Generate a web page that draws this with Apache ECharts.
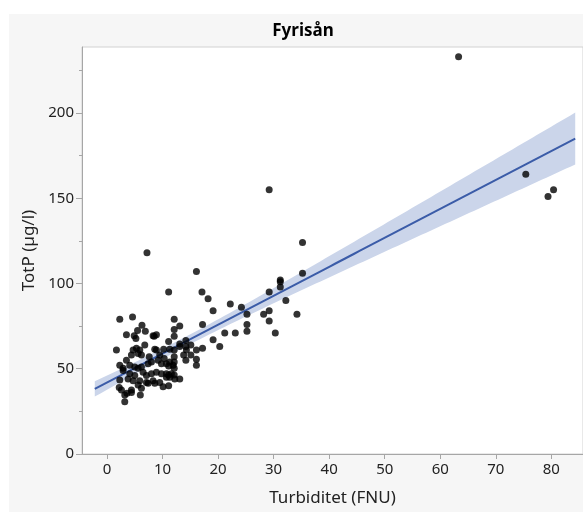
<!DOCTYPE html>
<html>
<head>
<meta charset="utf-8">
<script src="https://cdn.jsdelivr.net/npm/echarts@6/dist/echarts.min.js"></script>
<style>
  html, body { margin: 0; padding: 0; background: #ffffff; }
  #chart { width: 583px; height: 512px; }
</style>
</head>
<body>
<div id="chart"></div>
<script>
// Fyrisån: total phosphorus against turbidity, one pair per sample
const turbidity = [
  63.3, 75.4, 80.4, 79.4, 29.2, 35.2, 35.2, 31.2, 31.2, 31.2,
  29.2, 32.2, 22.2, 24.2, 25.2, 28.2, 29.2, 34.2, 29.2, 25.2,
  25.2, 30.3, 21.2, 23.1, 20.3, 7.2, 16.1, 11.1, 17.1, 18.2,
  19.1, 12.1, 17.2, 13.1, 12.1, 8.5, 8.9, 12.1, 11.1, 14.2,
  19.1, 13.1, 15.1, 8.6, 10.2, 12.1, 14.2, 17.2, 16.1, 15.1,
  12.1, 14.2, 16.1, 16.1, 12.1, 11.1, 12.1, 12.1, 11.1, 13.1,
  10.1, 11.1, 8.6, 2.3, 4.6, 6.3, 6.9, 3.5, 4.9, 5.2,
  8.3, 1.7, 4.7, 5.3, 5.9, 4.4, 5.6, 6.2, 8.9, 11.3,
  13.1, 14.3, 2.3, 2.9, 3.5, 4.1, 5.0, 5.6, 6.2, 7.4,
  8.0, 9.2, 9.8, 10.7, 11.3, 11.9, 4.1, 5.0, 6.5, 7.1,
  8.0, 8.9, 9.8, 10.7, 11.6, 3.8, 4.7, 5.9, 7.1, 8.3,
  9.5, 10.7, 11.3, 12.2, 2.2, 2.6, 4.4, 5.6, 6.2, 7.4,
  3.2, 3.6, 3.2, 4.4, 6.0, 2.3, 2.9, 7.6, 6.8, 9.5,
  10.3, 13.8, 5.5
];
const totP = [
  233, 164, 155, 151, 155, 124, 106, 102, 101, 98,
  95, 90, 88, 86, 82, 82, 84, 82, 78, 76,
  72, 71, 71, 71, 63, 118, 107, 95, 95, 91,
  84, 79, 76, 75, 73, 69, 70, 69, 66, 66.5,
  67, 64.5, 64, 61.4, 61.4, 61, 63, 62, 61, 58,
  57, 55, 55.5, 52, 54, 51.6, 50.3, 46.3, 46.3, 44,
  39.5, 40, 41.5, 79, 80.4, 75.5, 72, 70, 69.4, 67.7,
  69.4, 61, 61, 62, 61, 58, 59, 58, 61, 61.4,
  63, 61, 52, 50.3, 55, 52, 51, 50.3, 51, 53,
  54, 55, 53, 53, 54, 52, 47, 46, 48, 46,
  47, 48, 47, 47, 47, 44, 43, 43, 42, 43,
  42, 45, 45, 44, 39, 37.5, 37.5, 40.5, 38.5, 41.5,
  34.6, 35.6, 30.7, 36, 34.6, 43.4, 49, 57, 64, 58,
  56, 58, 72.5
];

// axis ticks
const xTickValues = [0, 10, 20, 30, 40, 50, 60, 70, 80];
const yTickValues = [0, 50, 100, 150, 200];
const yMinorTickValues = [25, 75, 125, 175, 225];

// x extent covered by the fitted line and its confidence band
const fitRange = [-2.2, 84.3];

// ordinary least squares fit with a 95% confidence band for the mean
function linearFit(xs, ys) {
  const n = xs.length;
  let mx = 0, my = 0;
  for (let i = 0; i < n; i++) { mx += xs[i]; my += ys[i]; }
  mx /= n; my /= n;
  let sxx = 0, sxy = 0;
  for (let i = 0; i < n; i++) {
    sxx += (xs[i] - mx) * (xs[i] - mx);
    sxy += (xs[i] - mx) * (ys[i] - my);
  }
  const slope = sxy / sxx;
  const intercept = my - slope * mx;
  let sse = 0;
  for (let i = 0; i < n; i++) {
    const r = ys[i] - (intercept + slope * xs[i]);
    sse += r * r;
  }
  const s = Math.sqrt(sse / (n - 2));
  const t = 1.977;
  return {
    predict: x => intercept + slope * x,
    halfWidth: x => t * s * Math.sqrt(1 / n + (x - mx) * (x - mx) / sxx)
  };
}

const model = linearFit(turbidity, totP);
const bandX = [];
for (let k = 0; k <= 100; k++) {
  bandX.push(fitRange[0] + (fitRange[1] - fitRange[0]) * k / 100);
}
const fitLine = bandX.map(x => [x, model.predict(x)]);
const bandUpper = bandX.map(x => [x, model.predict(x) + model.halfWidth(x)]);
const bandLower = bandX.map(x => [x, model.predict(x) - model.halfWidth(x)]);

const points = turbidity.map((x, i) => [x, totP[i]]);

const FONT = "'Noto Sans', 'Open Sans', sans-serif";
const AXIS_GREY = '#a6a6a6';

const chart = echarts.init(document.getElementById('chart'), null, { renderer: 'canvas' });
chart.setOption({
  animation: false,
  backgroundColor: '#ffffff',
  graphic: [{
    type: 'rect',
    z: -10,
    silent: true,
    shape: { x: 9, y: 14, width: 580, height: 500 },
    style: { fill: '#f6f6f6' }
  }],
  title: {
    text: 'Fyrisån',
    left: 298,
    top: 18,
    textAlign: 'center',
    textStyle: { fontFamily: FONT, fontSize: 17, fontWeight: 'bold', color: '#000' }
  },
  grid: {
    left: 82, right: -2, top: 47, bottom: 58,
    show: true,
    backgroundColor: '#ffffff',
    borderColor: '#d2d2d2',
    borderWidth: 1
  },
  xAxis: {
    type: 'value',
    min: -4.5,
    max: 85.7,
    name: 'Turbiditet (FNU)',
    nameLocation: 'middle',
    nameGap: 36,
    nameTextStyle: { fontFamily: FONT, fontSize: 17, color: '#222' },
    axisLine: { show: true, onZero: false, lineStyle: { color: AXIS_GREY } },
    axisTick: { show: true, length: 5, customValues: xTickValues, lineStyle: { color: AXIS_GREY } },
    axisLabel: { customValues: xTickValues, fontFamily: FONT, fontSize: 15, color: '#222', margin: 8 },
    splitLine: { show: false }
  },
  yAxis: [{
    type: 'value',
    min: 0,
    max: 238.7,
    name: 'TotP (µg/l)',
    nameLocation: 'middle',
    nameGap: 44,
    nameRotate: 90,
    nameTextStyle: { fontFamily: FONT, fontSize: 17, color: '#222' },
    axisLine: { show: true, onZero: false, lineStyle: { color: AXIS_GREY } },
    axisTick: { show: true, length: 6, customValues: yTickValues, lineStyle: { color: AXIS_GREY } },
    axisLabel: { customValues: yTickValues, fontFamily: FONT, fontSize: 15, color: '#222', margin: 8 },
    splitLine: { show: false }
  }, {
    type: 'value',
    position: 'left',
    min: 0,
    max: 238.7,
    axisLine: { show: false, onZero: false },
    axisTick: { show: true, length: 3, customValues: yMinorTickValues, lineStyle: { color: AXIS_GREY } },
    axisLabel: { show: false },
    splitLine: { show: false }
  }],
  series: [{
    name: 'band',
    type: 'custom',
    silent: true,
    z: 1,
    clip: true,
    data: [0],
    renderItem: function (params, api) {
      const pts = bandUpper.map(p => api.coord(p))
        .concat(bandLower.slice().reverse().map(p => api.coord(p)));
      return {
        type: 'polygon',
        shape: { points: pts },
        style: { fill: '#cbd5ea', stroke: null }
      };
    }
  }, {
    name: 'fit',
    type: 'line',
    z: 2,
    data: fitLine,
    showSymbol: false,
    lineStyle: { color: '#3b5ca8', width: 2 }
  }, {
    name: 'TotP',
    type: 'scatter',
    z: 3,
    data: points,
    symbolSize: 7,
    itemStyle: { color: '#000000' }
  }]
});
</script>
</body>
</html>
